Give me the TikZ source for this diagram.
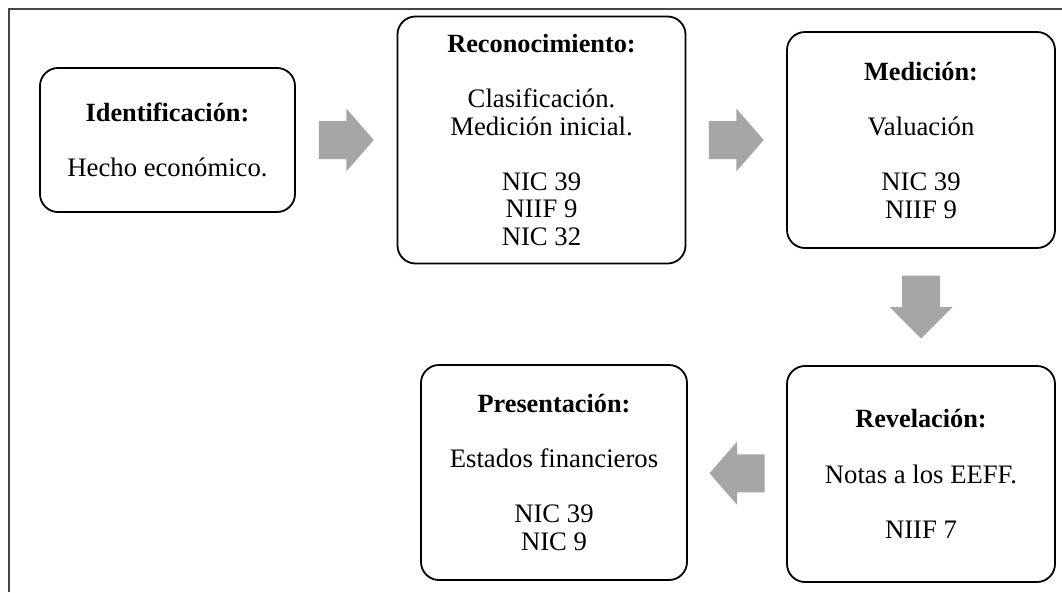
\documentclass[tikz,border=0pt]{standalone}
\usepackage{fontspec}
\setmainfont{Liberation Serif}
\usetikzlibrary{calc}
\definecolor{framegray}{RGB}{70,70,70}
\definecolor{arrowgray}{RGB}{166,166,166}
\newcommand{\stagetitle}[1]{{\fontsize{26.3}{27.6}\selectfont\bfseries #1}}
\tikzset{
  stage/.style={draw=black, line width=1.8pt, rounded corners=18pt,
    align=center, inner sep=0pt, fill=white,
    font=\fontsize{26.7}{27.6}\selectfont},
  % block arrow pointing right, centred on the head base; #1 = total length
  pics/blockarrow/.style={code={
    \fill[arrowgray] (-#1/2,-19) -- (0,-19) -- (0,-31.5) -- (#1/2,0)
      -- (0,31.5) -- (0,19) -- (-#1/2,19) -- cycle;
  }}
}
\begin{document}
\begin{tikzpicture}[x=1pt,y=-1pt]
\useasboundingbox (0,0) rectangle (1062,592);
\fill[white] (0,0) rectangle (1062,592);

% outer frame (top and left edges)
\draw[framegray, line width=1.6pt] (9,592) -- (9,9) -- (1062,9);

% process stages
\node[stage, minimum width=255pt, minimum height=144pt] (ident) at (167.5,140)
  {\stagetitle{Identificación:}\\[27.6pt]Hecho económico.};
\node[stage, minimum width=288pt, minimum height=247pt] (recon) at (541.5,140)
  {\stagetitle{Reconocimiento:}\\[27.6pt]Clasificación.\\Medición inicial.\\[27.6pt]NIC 39\\NIIF 9\\NIC 32};
\node[stage, minimum width=268pt, minimum height=216pt] (medic) at (921,140)
  {\stagetitle{Medición:}\\[27.6pt]Valuación\\[27.6pt]NIC 39\\NIIF 9};
\node[stage, minimum width=268pt, minimum height=216pt] (revel) at (921,474)
  {\stagetitle{Revelación:}\\[27.6pt]Notas a los EEFF.\\[27.6pt]NIIF 7};
\node[stage, minimum width=266pt, minimum height=215pt] (prese) at (554,472.5)
  {\stagetitle{Presentación:}\\[27.6pt]Estados financieros\\[27.6pt]NIC 39\\NIC 9};

% block arrows between stages
\pic at ($(ident.east)!0.5!(recon.west)$) {blockarrow=55};
\pic at ($(recon.east |- ident.east)!0.5!(medic.west)$) {blockarrow=55};
\pic[rotate=-90] at ($(medic.south)!0.5!(revel.north)$) {blockarrow=63};
\pic[rotate=180] at ($(revel.west)!0.5!(prese.east)$) {blockarrow=55};
\end{tikzpicture}
\end{document}
